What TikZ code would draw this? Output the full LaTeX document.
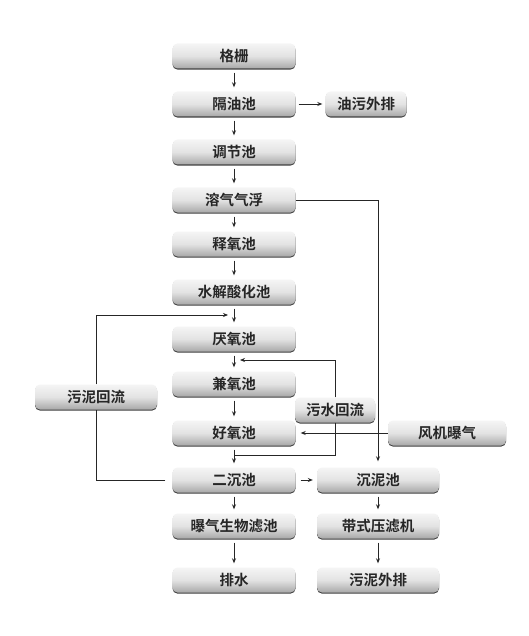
\documentclass[tikz,border=0pt]{standalone}
\usepackage{fontspec}
\setmainfont{Noto Sans CJK SC}
\newfontfamily\boxfont{Noto Sans CJK SC Bold}
\usetikzlibrary{arrows.meta,shadows}
\begin{document}
\begin{tikzpicture}[x=1pt,y=-1pt,
  box/.style={rounded corners=5pt, minimum height=25pt, inner sep=0pt,
    top color=black!4, bottom color=black!34, middle color=black!11,
    general shadow={fill=black!75, shadow yshift=-1.1pt},
    font=\boxfont\fontsize{14.5}{16}\selectfont, text=black!85},
  flow/.style={line width=0.8pt, draw=black!85},
  arr/.style={flow, -{Stealth[length=5pt,width=4pt]}}]
\useasboundingbox[fill=white] (0,0) rectangle (529,636);
% main column
\node[box, minimum width=123pt] (gs) at (234,56) {格栅};
\node[box, minimum width=123pt] (gy) at (234,104) {隔油池};
\node[box, minimum width=123pt] (tj) at (234,152) {调节池};
\node[box, minimum width=123pt] (rq) at (234,200) {溶气气浮};
\node[box, minimum width=123pt] (sy) at (234,244) {释氧池};
\node[box, minimum width=123pt] (sj) at (234,292) {水解酸化池};
\node[box, minimum width=123pt] (yy) at (234,339) {厌氧池};
\node[box, minimum width=123pt] (jy) at (234,384) {兼氧池};
\node[box, minimum width=123pt] (hy) at (234,433) {好氧池};
\node[box, minimum width=123pt] (ec) at (234,480) {二沉池};
\node[box, minimum width=123pt] (pq) at (234,526) {曝气生物滤池};
\node[box, minimum width=123pt] (ps) at (234,580) {排水};
% side boxes
\node[box, minimum width=81pt] (yw) at (366,104) {油污外排};
\node[box, minimum width=122pt] (cn) at (378,480) {沉泥池};
\node[box, minimum width=122pt] (dl) at (378,526) {带式压滤机};
\node[box, minimum width=122pt] (wp) at (378,580) {污泥外排};
\node[box, minimum width=122pt] (wn) at (96,397) {污泥回流};
\node[box, minimum width=80pt] (ws) at (335,410) {污水回流};
\node[box, minimum width=118pt] (fj) at (447,433) {风机曝气};
% coordinates
\coordinate (wnend) at (228,315);
\coordinate (wsend) at (240,360);
\coordinate (wsjoin) at (234,455);
% main arrows
\foreach \a/\b in {gs/gy,gy/tj,tj/rq,rq/sy,sy/sj,sj/yy,yy/jy,jy/hy,hy/ec,ec/pq,pq/ps,cn/dl,dl/wp}
  \draw[arr, shorten <=4pt, shorten >=4pt] (\a.south) -- (\b.north);
\draw[arr, shorten <=3pt, shorten >=3pt] (gy.east) -- (yw.west);
\draw[arr, shorten <=5pt, shorten >=4pt] (ec.east) -- (cn.west);
% dissolved air flotation to sludge tank
\draw[arr, shorten >=6pt] (rq.east) -| (cn.north);
% sludge return
\draw[flow] ([xshift=-7pt]ec.west) -| (wn.south);
\draw[arr] (wn.north) |- (wnend);
% sewage return
\draw[arr] (ws.north) |- (wsend);
\draw[flow] (ws.south) |- (wsjoin);
% blower aeration
\draw[arr, shorten >=5pt] (fj.west) -- (hy.east);
\end{tikzpicture}
\end{document}
